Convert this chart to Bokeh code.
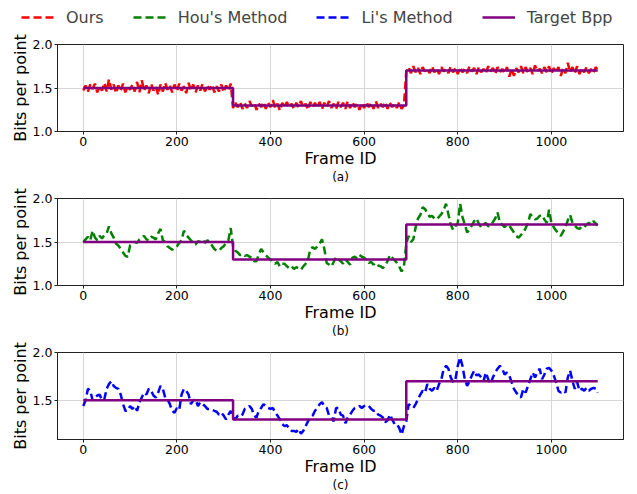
from bokeh.plotting import figure
from bokeh.layouts import column
from bokeh.models import (Range1d, FixedTicker, Legend, LegendItem, Title,
                          PrintfTickFormatter)
from bokeh.embed import file_html
from bokeh.resources import INLINE

# ---------------- data ----------------
frames = list(range(0, 1100, 5)) + [1099]

ours = [
    1.47, 1.53, 1.46, 1.54, 1.49, 1.55, 1.45, 1.52, 1.47, 1.56,
    1.46, 1.60, 1.48, 1.54, 1.44, 1.53, 1.47, 1.55, 1.45, 1.52,
    1.48, 1.54, 1.46, 1.57, 1.45, 1.59, 1.47, 1.53, 1.44, 1.55,
    1.47, 1.52, 1.42, 1.54, 1.46, 1.56, 1.48, 1.53, 1.45, 1.54,
    1.46, 1.55, 1.47, 1.52, 1.44, 1.56, 1.47, 1.54, 1.45, 1.53,
    1.47, 1.55, 1.46, 1.53, 1.48, 1.54, 1.45, 1.52, 1.46, 1.54,
    1.45, 1.53, 1.47, 1.55, 1.27, 1.33, 1.28, 1.34, 1.26, 1.32,
    1.27, 1.35, 1.29, 1.33, 1.25, 1.32, 1.28, 1.34, 1.26, 1.33,
    1.28, 1.36, 1.27, 1.32, 1.24, 1.33, 1.28, 1.34, 1.27, 1.32,
    1.26, 1.33, 1.28, 1.35, 1.27, 1.32, 1.25, 1.34, 1.28, 1.33,
    1.27, 1.34, 1.26, 1.33, 1.28, 1.35, 1.27, 1.32, 1.26, 1.34,
    1.28, 1.33, 1.26, 1.35, 1.27, 1.34, 1.28, 1.32, 1.25, 1.33,
    1.27, 1.34, 1.28, 1.33, 1.26, 1.35, 1.27, 1.32, 1.28, 1.34,
    1.26, 1.33, 1.28, 1.32, 1.27, 1.34, 1.26, 1.30, 1.69, 1.74,
    1.67, 1.75, 1.68, 1.73, 1.66, 1.74, 1.69, 1.72, 1.67, 1.75,
    1.68, 1.73, 1.66, 1.74, 1.69, 1.72, 1.67, 1.75, 1.68, 1.73,
    1.66, 1.74, 1.68, 1.72, 1.67, 1.75, 1.69, 1.73, 1.66, 1.74,
    1.68, 1.72, 1.67, 1.75, 1.69, 1.73, 1.66, 1.74, 1.68, 1.72,
    1.67, 1.74, 1.63, 1.72, 1.64, 1.73, 1.68, 1.75, 1.67, 1.74,
    1.68, 1.73, 1.66, 1.76, 1.69, 1.72, 1.67, 1.74, 1.68, 1.75,
    1.66, 1.73, 1.68, 1.74, 1.64, 1.73, 1.67, 1.79, 1.68, 1.74,
    1.67, 1.75, 1.66, 1.73, 1.68, 1.74, 1.67, 1.72, 1.68, 1.74,
    1.70,
]

hou = [
    1.50, 1.53, 1.56, 1.52, 1.63, 1.55, 1.52, 1.57, 1.54, 1.58,
    1.60, 1.68, 1.60, 1.55, 1.48, 1.46, 1.42, 1.38, 1.34, 1.33,
    1.46, 1.48, 1.50, 1.49, 1.53, 1.55, 1.57, 1.53, 1.52, 1.56,
    1.55, 1.53, 1.60, 1.65, 1.52, 1.50, 1.45, 1.43, 1.41, 1.43,
    1.45, 1.49, 1.52, 1.63, 1.58, 1.55, 1.52, 1.49, 1.47, 1.51,
    1.50, 1.53, 1.49, 1.52, 1.50, 1.46, 1.42, 1.40, 1.40, 1.43,
    1.45, 1.49, 1.52, 1.66, 1.45, 1.40, 1.38, 1.35, 1.36, 1.34,
    1.35, 1.33, 1.32, 1.28, 1.28, 1.36, 1.42, 1.38, 1.35, 1.32,
    1.30, 1.27, 1.25, 1.27, 1.22, 1.25, 1.25, 1.22, 1.20, 1.22,
    1.19, 1.21, 1.20, 1.18, 1.22, 1.25, 1.29, 1.42, 1.44, 1.42,
    1.45, 1.48, 1.53, 1.42, 1.26, 1.24, 1.22, 1.27, 1.33, 1.30,
    1.28, 1.25, 1.30, 1.27, 1.24, 1.32, 1.33, 1.31, 1.35, 1.33,
    1.32, 1.29, 1.26, 1.27, 1.24, 1.26, 1.23, 1.22, 1.20, 1.23,
    1.28, 1.35, 1.32, 1.29, 1.26, 1.22, 1.16, 1.22, 1.48, 1.57,
    1.50, 1.53, 1.67, 1.77, 1.81, 1.90, 1.88, 1.83, 1.79, 1.80,
    1.77, 1.76, 1.79, 1.82, 1.87, 1.94, 1.82, 1.70, 1.64, 1.68,
    1.72, 1.94, 1.79, 1.70, 1.61, 1.64, 1.69, 1.74, 1.77, 1.71,
    1.67, 1.70, 1.72, 1.68, 1.69, 1.73, 1.77, 1.84, 1.72, 1.70,
    1.67, 1.70, 1.69, 1.65, 1.61, 1.57, 1.55, 1.58, 1.61, 1.66,
    1.72, 1.82, 1.79, 1.76, 1.77, 1.80, 1.81, 1.76, 1.72, 1.87,
    1.72, 1.67, 1.63, 1.60, 1.57, 1.62, 1.67, 1.75, 1.81, 1.72,
    1.69, 1.66, 1.65, 1.68, 1.67, 1.70, 1.72, 1.70, 1.74, 1.71,
    1.69,
]

li = [
    1.44, 1.50, 1.62, 1.60, 1.50, 1.53, 1.55, 1.56, 1.50, 1.51,
    1.62, 1.67, 1.70, 1.65, 1.63, 1.62, 1.56, 1.46, 1.39, 1.39,
    1.44, 1.41, 1.44, 1.39, 1.48, 1.53, 1.58, 1.56, 1.62, 1.60,
    1.55, 1.53, 1.58, 1.65, 1.62, 1.53, 1.51, 1.46, 1.39, 1.37,
    1.42, 1.40, 1.56, 1.62, 1.60, 1.56, 1.46, 1.50, 1.51, 1.44,
    1.48, 1.46, 1.44, 1.41, 1.41, 1.40, 1.39, 1.38, 1.35, 1.37,
    1.34, 1.30, 1.35, 1.39, 1.32, 1.30, 1.34, 1.33, 1.35, 1.41,
    1.42, 1.44, 1.41, 1.34, 1.32, 1.39, 1.42, 1.46, 1.44, 1.42,
    1.41, 1.42, 1.37, 1.34, 1.30, 1.25, 1.23, 1.24, 1.20, 1.18,
    1.18, 1.17, 1.20, 1.15, 1.18, 1.23, 1.28, 1.32, 1.34, 1.39,
    1.42, 1.46, 1.48, 1.44, 1.42, 1.34, 1.32, 1.28, 1.42, 1.42,
    1.35, 1.34, 1.26, 1.32, 1.35, 1.39, 1.42, 1.43, 1.44, 1.42,
    1.44, 1.45, 1.44, 1.41, 1.39, 1.39, 1.35, 1.34, 1.32, 1.27,
    1.29, 1.35, 1.30, 1.25, 1.25, 1.21, 1.14, 1.23, 1.28, 1.46,
    1.44, 1.42, 1.46, 1.51, 1.56, 1.60, 1.58, 1.67, 1.62, 1.60,
    1.63, 1.60, 1.67, 1.72, 1.83, 1.86, 1.83, 1.74, 1.69, 1.72,
    1.86, 1.95, 1.86, 1.72, 1.65, 1.70, 1.76, 1.81, 1.76, 1.77,
    1.74, 1.70, 1.79, 1.72, 1.67, 1.74, 1.79, 1.83, 1.86, 1.83,
    1.77, 1.79, 1.76, 1.69, 1.62, 1.58, 1.55, 1.53, 1.62, 1.58,
    1.65, 1.72, 1.79, 1.74, 1.79, 1.83, 1.72, 1.77, 1.83, 1.84,
    1.81, 1.76, 1.69, 1.60, 1.58, 1.60, 1.58, 1.74, 1.81, 1.70,
    1.62, 1.69, 1.60, 1.62, 1.60, 1.63, 1.60, 1.62, 1.63, 1.62,
    1.58,
]

target_frames = [0, 320, 690, 1099]
target_bpp = [1.5, 1.3, 1.7, 1.7]

x_ticks = [0, 200, 400, 600, 800, 1000]
y_ticks = [1.0, 1.5, 2.0]
legend_labels = ["Ours", "Hou's Method", "Li's Method", "Target Bpp"]

RED, GREEN, BLUE, PURPLE = "#ff0000", "#008000", "#0000ff", "#800080"
FONT = "DejaVu Sans"
DASH = "8 4"
LW = 2.5


def make_tag(text):
    kw = dict(text=text, align="center", text_font=FONT,
              text_font_size="12px", text_font_style="normal",
              text_color="black", offset=0)
    try:
        return Title(standoff=-5, **kw)
    except Exception:
        return Title(standoff=0, **kw)


def panel(values, color, tag, yrange, height, top, bottom):
    p = figure(width=637, height=height,
               x_range=Range1d(-55, 1154), y_range=Range1d(*yrange),
               output_backend="svg", toolbar_location=None,
               min_border_left=57, min_border_right=14,
               min_border_top=top, min_border_bottom=bottom)
    p.background_fill_color = "white"
    p.border_fill_color = "white"
    p.outline_line_color = "#222222"
    p.outline_line_width = 1

    p.line(frames, values, line_color=color, line_width=LW, line_dash=DASH)
    p.step(target_frames, target_bpp, mode="after",
           line_color=PURPLE, line_width=2.5)

    p.xaxis.ticker = FixedTicker(ticks=x_ticks)
    p.yaxis.ticker = FixedTicker(ticks=y_ticks)
    p.yaxis.formatter = PrintfTickFormatter(format="%.1f")
    for ax in (p.xaxis, p.yaxis):
        ax.major_label_text_font = FONT
        ax.major_label_text_font_size = "12.5px"
        ax.major_label_text_color = "black"
        ax.axis_label_text_font = FONT
        ax.axis_label_text_font_size = "16px"
        ax.axis_label_text_font_style = "normal"
        ax.axis_label_text_color = "black"
        ax.minor_tick_line_color = None
        ax.major_tick_in = 0
        ax.major_tick_out = 3
        ax.major_tick_line_color = "#222222"
        ax.axis_line_color = "#222222"
        ax.major_label_standoff = 2
        ax.axis_label_standoff = 0
    p.xaxis.axis_label = "Frame ID"
    p.yaxis.axis_label = "Bits per point"
    p.grid.grid_line_color = "#d6d6d6"
    p.grid.grid_line_width = 1

    p.add_layout(make_tag(tag), "below")
    return p


# legend strip on top
pl = figure(width=637, height=34, x_range=Range1d(0, 1), y_range=Range1d(0, 1),
            output_backend="svg", toolbar_location=None,
            min_border=0, min_border_left=0, min_border_right=0,
            min_border_top=0, min_border_bottom=0,
            x_axis_location=None, y_axis_location=None)
pl.grid.visible = False
pl.outline_line_color = None
pl.background_fill_color = "white"
pl.border_fill_color = "white"
hidden_x, hidden_y = [5, 6], [5, 6]   # outside the strip's range: only the legend shows
r1 = pl.line(hidden_x, hidden_y, line_color=RED, line_width=LW, line_dash=DASH)
r2 = pl.line(hidden_x, hidden_y, line_color=GREEN, line_width=LW, line_dash=DASH)
r3 = pl.line(hidden_x, hidden_y, line_color=BLUE, line_width=LW, line_dash=DASH)
r4 = pl.line(hidden_x, hidden_y, line_color=PURPLE, line_width=2.5)
legend = Legend(items=[LegendItem(label=lab, renderers=[r])
                       for lab, r in zip(legend_labels, [r1, r2, r3, r4])],
                orientation="horizontal", location=(21, 7),
                label_text_font=FONT, label_text_font_size="16px",
                glyph_width=33, glyph_height=20, label_height=20,
                label_standoff=12, spacing=29, padding=0, margin=0,
                border_line_alpha=0, background_fill_alpha=0)
pl.add_layout(legend, "center")

pa = panel(ours, RED, "(a)", (1.0, 2.0), 154, 10, 57)
pb = panel(hou, GREEN, "(b)", (1.0, 2.0), 154, 10, 57)
pc = panel(li, BLUE, "(c)", (1.09, 2.0), 152, 10, 55)

layout = column(pl, column(pa, pb, pc, spacing=0), spacing=0)

with open("out.html", "w") as f:
    f.write(file_html(layout, INLINE))
